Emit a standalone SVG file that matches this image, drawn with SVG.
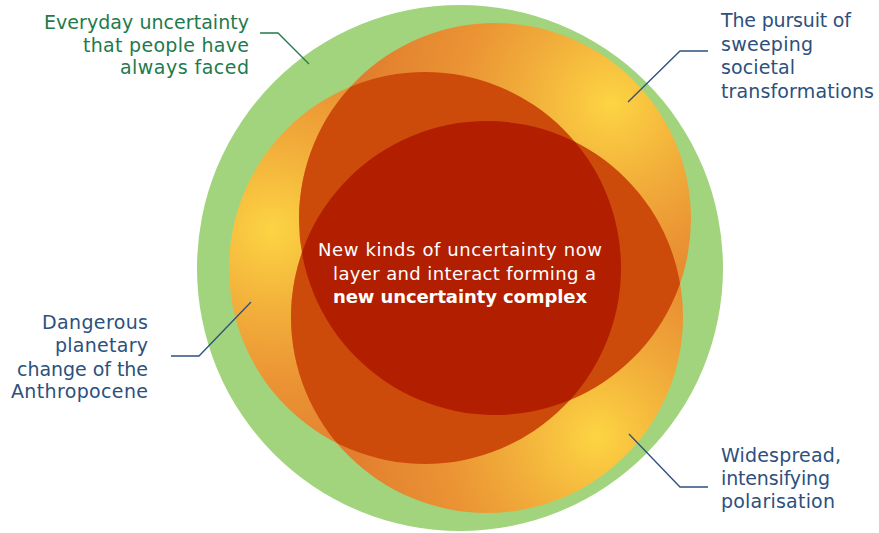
<svg xmlns="http://www.w3.org/2000/svg" width="879" height="533" viewBox="0 0 879 533">
<style>
.lbl{font-family:"DejaVu Sans","Liberation Sans",sans-serif;font-size:19px}
.green{fill:#1f7a4c}
.navy{fill:#2d507d}
.ctr{font-family:"DejaVu Sans","Liberation Sans",sans-serif;font-size:18px;fill:#ffffff}
.lead{fill:none;stroke-width:1.3}
.pair{fill:#cd4b0a}
.triple{fill:#b11e00}
</style>
<defs>
<radialGradient id="gA" gradientUnits="userSpaceOnUse" cx="272" cy="230" r="270">
<stop offset="0" stop-color="#fdd443"/>
<stop offset="0.33" stop-color="#f1ac3a"/>
<stop offset="0.56" stop-color="#eb9434"/>
<stop offset="1" stop-color="#e0792e"/>
</radialGradient>
<radialGradient id="gB" gradientUnits="userSpaceOnUse" cx="611" cy="104" r="270">
<stop offset="0" stop-color="#fdd443"/>
<stop offset="0.33" stop-color="#f1ac3a"/>
<stop offset="0.56" stop-color="#eb9434"/>
<stop offset="1" stop-color="#e0792e"/>
</radialGradient>
<radialGradient id="gC" gradientUnits="userSpaceOnUse" cx="597" cy="437" r="270">
<stop offset="0" stop-color="#fdd443"/>
<stop offset="0.33" stop-color="#f1ac3a"/>
<stop offset="0.56" stop-color="#eb9434"/>
<stop offset="1" stop-color="#e0792e"/>
</radialGradient>
<clipPath id="clipA"><circle cx="425" cy="268" r="196"/></clipPath>
<clipPath id="clipB"><circle cx="495" cy="219" r="196"/></clipPath>
</defs>

<g id="everyday">
<circle cx="460" cy="268" r="263" fill="#a1d47c"/>
<text class="lbl green">
<tspan x="44" y="29" textLength="205" lengthAdjust="spacing">Everyday uncertainty</tspan>
<tspan x="83" y="51.5" textLength="166" lengthAdjust="spacing">that people have</tspan>
<tspan x="120" y="74" textLength="129" lengthAdjust="spacing">always faced</tspan>
</text>
</g>

<g id="planetary">
<circle cx="425" cy="268" r="196" fill="url(#gA)"/>
<text class="lbl navy">
<tspan x="42" y="329" textLength="106" lengthAdjust="spacing">Dangerous</tspan>
<tspan x="55" y="352" textLength="93" lengthAdjust="spacing">planetary</tspan>
<tspan x="17" y="375.5" textLength="131" lengthAdjust="spacing">change of the</tspan>
<tspan x="11" y="398" textLength="137" lengthAdjust="spacing">Anthropocene</tspan>
</text>
</g>

<g id="societal">
<circle cx="495" cy="219" r="196" fill="url(#gB)"/>
<text class="lbl navy">
<tspan x="721" y="27" textLength="130" lengthAdjust="spacing">The pursuit of</tspan>
<tspan x="721" y="50.5" textLength="92" lengthAdjust="spacing">sweeping</tspan>
<tspan x="721" y="74" textLength="74" lengthAdjust="spacing">societal</tspan>
<tspan x="721" y="97.5" textLength="153" lengthAdjust="spacing">transformations</tspan>
</text>
</g>

<g id="polarisation">
<circle cx="487" cy="317" r="196" fill="url(#gC)"/>
<text class="lbl navy">
<tspan x="721" y="462" textLength="120" lengthAdjust="spacing">Widespread,</tspan>
<tspan x="721" y="485" textLength="109" lengthAdjust="spacing">intensifying</tspan>
<tspan x="721" y="508" textLength="114" lengthAdjust="spacing">polarisation</tspan>
</text>
</g>

<g id="complex">
<circle class="pair" cx="495" cy="219" r="196" clip-path="url(#clipA)"/>
<circle class="pair" cx="487" cy="317" r="196" clip-path="url(#clipA)"/>
<circle class="pair" cx="487" cy="317" r="196" clip-path="url(#clipB)"/>
<g clip-path="url(#clipA)"><circle class="triple" cx="487" cy="317" r="196" clip-path="url(#clipB)"/></g>
<text class="ctr">
<tspan x="318" y="256" textLength="284" lengthAdjust="spacing">New kinds of uncertainty now</tspan>
<tspan x="333" y="280" textLength="263" lengthAdjust="spacing">layer and interact forming a</tspan>
<tspan x="333" y="303" textLength="254" lengthAdjust="spacing" font-weight="bold">new uncertainty complex</tspan>
</text>
</g>

<g id="connectors">
<polyline class="lead" stroke="#1f7a4c" points="260,33 278,33 309,64"/>
<polyline class="lead" stroke="#2d507d" points="708,51 680,51 628,102"/>
<polyline class="lead" stroke="#2d507d" points="171,356 199,356 251,302"/>
<polyline class="lead" stroke="#2d507d" points="629,434 680,487 708,487"/>
</g>
</svg>
